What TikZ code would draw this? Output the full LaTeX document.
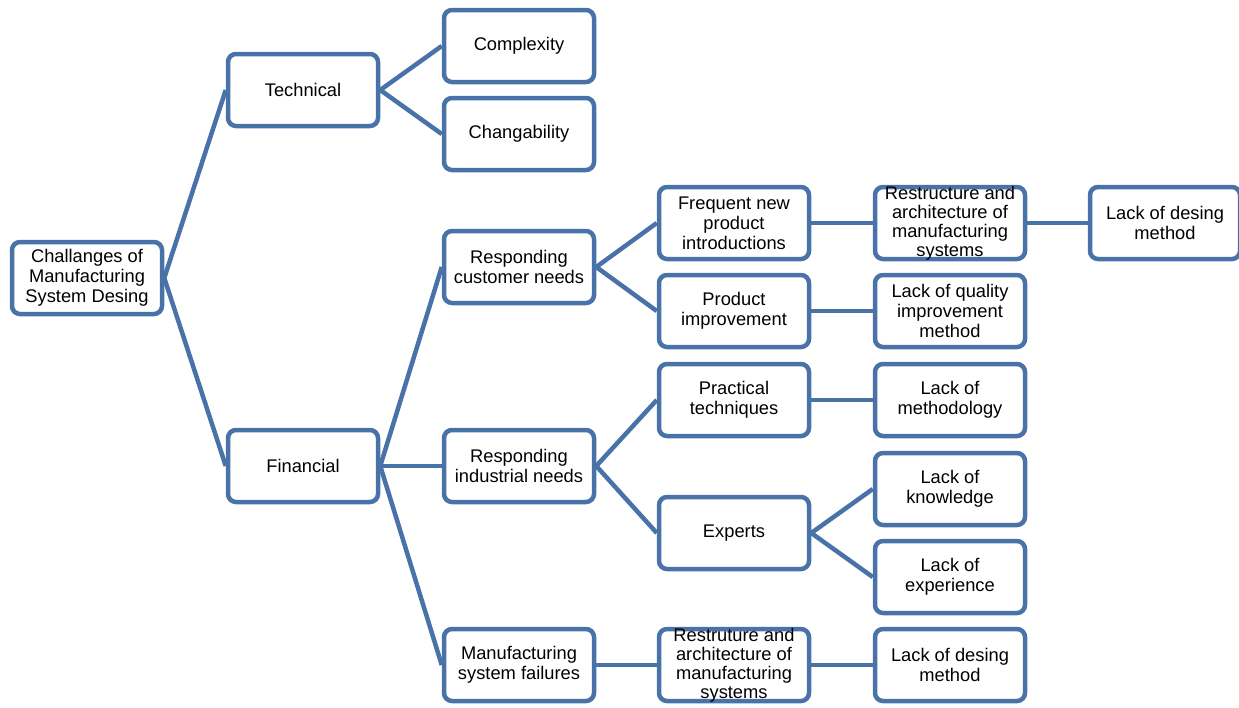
\documentclass[tikz,border=0pt]{standalone}
\usepackage{fontspec}
\setmainfont{Liberation Sans}
\definecolor{boxblue}{RGB}{72,114,168}
\begin{document}
\begin{tikzpicture}[x=1pt,y=-1pt,
  box/.style={draw=boxblue,line width=4.5pt,rounded corners=8pt,fill=white,
    minimum width=150pt,minimum height=72pt,inner sep=0pt,align=center,
    font=\fontsize{18.3}{19.8}\selectfont},
  txt/.style={inner sep=0pt,align=center,font=\fontsize{18.3}{19}\selectfont},
  link/.style={draw=boxblue,line width=4.5pt}]
\useasboundingbox (0,0) rectangle (1239,707);
\begin{scope}
\clip (0,0) rectangle (1239,707);
% nodes
\node[box] (root) at (87,278) {Challanges of\\Manufacturing\\System Desing};
\node[box] (tech) at (303,90) {Technical};
\node[box] (fin) at (303,466) {Financial};
\node[box] (comp) at (519,46) {Complexity};
\node[box] (chg) at (519,134) {Changability};
\node[box] (cust) at (519,267) {Responding\\customer needs};
\node[box] (ind) at (519,466) {Responding\\industrial needs};
\node[box] (fail) at (519,665) {Manufacturing\\system failures};
\node[box] (freq) at (734,223) {Frequent new\\product\\introductions};
\node[box] (prod) at (734,311) {Product\\improvement};
\node[box] (prac) at (734,400) {Practical\\techniques};
\node[box] (exp) at (734,533) {Experts};
\node[box] (rstb) at (734,665) {};
\node[txt] at (rstb.center) {Restruture and\\architecture of\\manufacturing\\systems};
\node[box] (rstt) at (950,223) {};
\node[txt] at (rstt.center) {Restructure and\\architecture of\\manufacturing\\systems};
\node[box] (qual) at (950,311) {Lack of quality\\improvement\\method};
\node[box] (meth) at (950,400) {Lack of\\methodology};
\node[box] (know) at (950,489) {Lack of\\knowledge};
\node[box] (expe) at (950,577) {Lack of\\experience};
\node[box] (ldb) at (950,665) {Lack of desing\\method};
\node[box] (ldt) at (1165,223) {Lack of desing\\method};
% connectors
\path[link] (root.east) -- (tech.west);
\path[link] (root.east) -- (fin.west);
\path[link] (tech.east) -- (comp.west);
\path[link] (tech.east) -- (chg.west);
\path[link] (fin.east) -- (cust.west);
\path[link] (fin.east) -- (ind.west);
\path[link] (fin.east) -- (fail.west);
\path[link] (cust.east) -- (freq.west);
\path[link] (cust.east) -- (prod.west);
\path[link] (ind.east) -- (prac.west);
\path[link] (ind.east) -- (exp.west);
\path[link] (fail.east) -- (rstb.west);
\path[link] (freq.east) -- (rstt.west);
\path[link] (rstt.east) -- (ldt.west);
\path[link] (prod.east) -- (qual.west);
\path[link] (prac.east) -- (meth.west);
\path[link] (exp.east) -- (know.west);
\path[link] (exp.east) -- (expe.west);
\path[link] (rstb.east) -- (ldb.west);
\end{scope}
\end{tikzpicture}
\end{document}
